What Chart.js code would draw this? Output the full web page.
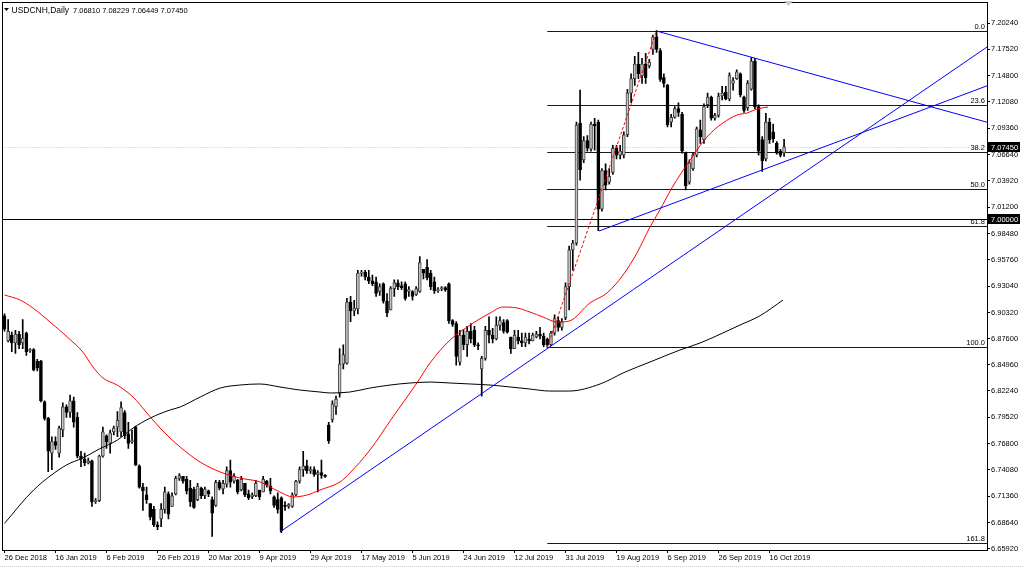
<!DOCTYPE html>
<html>
<head>
<meta charset="utf-8">
<script src="https://cdn.jsdelivr.net/npm/chart.js@4.4.0/dist/chart.umd.min.js"></script>
<style>
  html, body { margin: 0; padding: 0; background: #fff; }
  #wrap { width: 1024px; height: 569px; }
</style>
</head>
<body>
<div id="wrap"><canvas id="chart" width="1024" height="569"></canvas></div>
<script>
// USDCNH daily candles, 26 Dec 2018 .. 22 Oct 2019
const opens = [
  6.900, 6.874, 6.880, 6.872, 6.881, 6.872, 6.882, 6.864, 6.865, 6.853,
  6.853, 6.811, 6.794, 6.758, 6.770, 6.758, 6.782, 6.806, 6.800, 6.812,
  6.795, 6.755, 6.752, 6.748, 6.750, 6.708, 6.709, 6.755, 6.776, 6.768,
  6.780, 6.785, 6.780, 6.800, 6.778, 6.770, 6.785, 6.745, 6.723, 6.715,
  6.706, 6.700, 6.684, 6.690, 6.700, 6.716, 6.703, 6.716, 6.732, 6.734,
  6.731, 6.722, 6.721, 6.710, 6.722, 6.714, 6.719, 6.710, 6.704, 6.728,
  6.721, 6.726, 6.740, 6.729, 6.730, 6.720, 6.727, 6.716, 6.713, 6.714,
  6.720, 6.718, 6.729, 6.724, 6.713, 6.710, 6.712, 6.704, 6.703, 6.703,
  6.715, 6.729, 6.741, 6.745, 6.740, 6.741, 6.736, 6.738, 6.735, 6.787,
  6.793, 6.806, 6.820, 6.850, 6.851, 6.914, 6.905, 6.907, 6.944, 6.945,
  6.940, 6.936, 6.935, 6.925, 6.933, 6.915, 6.906, 6.928, 6.934, 6.931,
  6.933, 6.925, 6.925, 6.922, 6.925, 6.948, 6.950, 6.944, 6.935, 6.926,
  6.928, 6.929, 6.933, 6.895, 6.892, 6.852, 6.880, 6.870, 6.884, 6.885,
  6.870, 6.845, 6.856, 6.885, 6.880, 6.876, 6.890, 6.893, 6.895, 6.878,
  6.866, 6.878, 6.874, 6.872, 6.876, 6.874, 6.878, 6.881, 6.879, 6.876,
  6.870, 6.882, 6.895, 6.888, 6.898, 6.930, 6.968, 6.975, 7.099, 7.061,
  7.081, 7.072, 7.098, 7.100, 7.010, 7.050, 7.038, 7.048, 7.073, 7.066,
  7.066, 7.087, 7.130, 7.145, 7.160, 7.148, 7.160, 7.158, 7.175, 7.188,
  7.174, 7.146, 7.138, 7.100, 7.105, 7.114, 7.108, 7.068, 7.038, 7.052,
  7.066, 7.092, 7.082, 7.118, 7.126, 7.104, 7.107, 7.127, 7.131, 7.124,
  7.140, 7.145, 7.150, 7.126, 7.115, 7.134, 7.163, 7.116, 7.082, 7.062,
  7.100, 7.090, 7.078, 7.070, 7.0681
];
const highs = [
  6.902, 6.896, 6.883, 6.885, 6.884, 6.896, 6.883, 6.866, 6.866, 6.855,
  6.854, 6.812, 6.795, 6.775, 6.775, 6.786, 6.810, 6.808, 6.818, 6.816,
  6.800, 6.760, 6.758, 6.753, 6.751, 6.711, 6.756, 6.785, 6.777, 6.782,
  6.786, 6.801, 6.811, 6.802, 6.790, 6.782, 6.786, 6.746, 6.727, 6.723,
  6.706, 6.703, 6.687, 6.706, 6.723, 6.718, 6.717, 6.734, 6.737, 6.734,
  6.734, 6.730, 6.723, 6.727, 6.723, 6.723, 6.720, 6.713, 6.730, 6.730,
  6.730, 6.744, 6.751, 6.737, 6.731, 6.734, 6.727, 6.720, 6.717, 6.730,
  6.720, 6.734, 6.730, 6.732, 6.714, 6.717, 6.713, 6.708, 6.706, 6.717,
  6.730, 6.744, 6.760, 6.751, 6.744, 6.744, 6.740, 6.751, 6.736, 6.790,
  6.812, 6.817, 6.866, 6.870, 6.918, 6.920, 6.916, 6.947, 6.947, 6.947,
  6.947, 6.942, 6.940, 6.933, 6.934, 6.923, 6.930, 6.937, 6.937, 6.935,
  6.935, 6.930, 6.926, 6.930, 6.961, 6.948, 6.958, 6.947, 6.940, 6.929,
  6.930, 6.930, 6.934, 6.896, 6.894, 6.885, 6.886, 6.889, 6.892, 6.889,
  6.872, 6.858, 6.889, 6.899, 6.887, 6.899, 6.899, 6.896, 6.896, 6.878,
  6.885, 6.885, 6.882, 6.882, 6.882, 6.882, 6.884, 6.888, 6.882, 6.877,
  6.884, 6.901, 6.899, 6.897, 6.934, 6.972, 6.978, 7.100, 7.133, 7.085,
  7.086, 7.100, 7.104, 7.102, 7.052, 7.057, 7.052, 7.076, 7.076, 7.076,
  7.090, 7.134, 7.150, 7.168, 7.172, 7.166, 7.171, 7.165, 7.190, 7.1945,
  7.176, 7.150, 7.139, 7.108, 7.116, 7.120, 7.110, 7.069, 7.061, 7.068,
  7.095, 7.102, 7.119, 7.130, 7.127, 7.109, 7.130, 7.137, 7.137, 7.151,
  7.146, 7.154, 7.151, 7.127, 7.143, 7.1666, 7.166, 7.118, 7.085, 7.109,
  7.104, 7.098, 7.080, 7.072, 7.08229
];
const lows = [
  6.884, 6.873, 6.863, 6.861, 6.866, 6.866, 6.859, 6.862, 6.843, 6.843,
  6.811, 6.792, 6.739, 6.741, 6.762, 6.754, 6.775, 6.795, 6.795, 6.785,
  6.753, 6.744, 6.745, 6.747, 6.703, 6.706, 6.708, 6.754, 6.763, 6.758,
  6.777, 6.775, 6.775, 6.773, 6.763, 6.768, 6.745, 6.722, 6.699, 6.706,
  6.689, 6.682, 6.679, 6.682, 6.696, 6.690, 6.703, 6.715, 6.730, 6.727,
  6.716, 6.703, 6.701, 6.709, 6.711, 6.711, 6.713, 6.672, 6.703, 6.720,
  6.716, 6.723, 6.723, 6.727, 6.716, 6.719, 6.713, 6.710, 6.711, 6.713,
  6.710, 6.718, 6.723, 6.716, 6.702, 6.696, 6.676, 6.699, 6.701, 6.702,
  6.714, 6.727, 6.734, 6.737, 6.737, 6.734, 6.718, 6.732, 6.733, 6.768,
  6.790, 6.798, 6.816, 6.845, 6.850, 6.894, 6.900, 6.902, 6.941, 6.937,
  6.933, 6.931, 6.920, 6.921, 6.913, 6.899, 6.906, 6.920, 6.927, 6.927,
  6.916, 6.920, 6.916, 6.921, 6.924, 6.938, 6.937, 6.927, 6.923, 6.924,
  6.926, 6.925, 6.892, 6.889, 6.849, 6.849, 6.865, 6.858, 6.872, 6.868,
  6.865, 6.817, 6.854, 6.872, 6.872, 6.875, 6.885, 6.882, 6.882, 6.861,
  6.866, 6.871, 6.868, 6.868, 6.871, 6.874, 6.877, 6.876, 6.868, 6.8675,
  6.869, 6.880, 6.884, 6.885, 6.896, 6.906, 6.947, 6.973, 7.040, 7.058,
  7.070, 7.070, 7.071, 6.988, 7.008, 7.030, 7.036, 7.046, 7.062, 7.062,
  7.063, 7.085, 7.120, 7.138, 7.145, 7.140, 7.140, 7.156, 7.170, 7.172,
  7.142, 7.136, 7.095, 7.095, 7.104, 7.106, 7.068, 7.030, 7.036, 7.050,
  7.064, 7.078, 7.078, 7.115, 7.102, 7.102, 7.105, 7.123, 7.123, 7.122,
  7.133, 7.144, 7.126, 7.110, 7.112, 7.133, 7.114, 7.066, 7.049, 7.060,
  7.078, 7.079, 7.067, 7.064, 7.06449
];
const closes = [
  6.886, 6.884, 6.872, 6.881, 6.870, 6.877, 6.863, 6.865, 6.844, 6.846,
  6.812, 6.794, 6.760, 6.770, 6.766, 6.784, 6.806, 6.800, 6.812, 6.790,
  6.755, 6.752, 6.748, 6.750, 6.708, 6.709, 6.755, 6.780, 6.770, 6.779,
  6.784, 6.792, 6.805, 6.776, 6.768, 6.770, 6.746, 6.723, 6.719, 6.710,
  6.692, 6.684, 6.682, 6.700, 6.718, 6.695, 6.714, 6.732, 6.735, 6.729,
  6.719, 6.708, 6.702, 6.724, 6.714, 6.721, 6.716, 6.696, 6.728, 6.722,
  6.727, 6.740, 6.728, 6.734, 6.718, 6.731, 6.715, 6.712, 6.715, 6.727,
  6.713, 6.731, 6.725, 6.719, 6.704, 6.700, 6.678, 6.703, 6.705, 6.715,
  6.729, 6.741, 6.745, 6.740, 6.741, 6.736, 6.738, 6.735, 6.734, 6.771,
  6.809, 6.814, 6.850, 6.860, 6.914, 6.905, 6.908, 6.944, 6.945, 6.940,
  6.936, 6.933, 6.923, 6.930, 6.915, 6.903, 6.928, 6.934, 6.930, 6.929,
  6.918, 6.927, 6.920, 6.928, 6.955, 6.944, 6.939, 6.930, 6.926, 6.927,
  6.929, 6.927, 6.895, 6.891, 6.858, 6.880, 6.870, 6.884, 6.876, 6.870,
  6.869, 6.856, 6.885, 6.880, 6.876, 6.890, 6.895, 6.884, 6.883, 6.866,
  6.880, 6.874, 6.872, 6.878, 6.874, 6.880, 6.881, 6.879, 6.870, 6.870,
  6.882, 6.897, 6.888, 6.894, 6.930, 6.968, 6.975, 7.097, 7.051, 7.081,
  7.073, 7.098, 7.096, 7.010, 7.050, 7.035, 7.044, 7.073, 7.066, 7.070,
  7.087, 7.130, 7.145, 7.160, 7.150, 7.160, 7.146, 7.162, 7.188, 7.175,
  7.144, 7.140, 7.097, 7.105, 7.114, 7.110, 7.070, 7.034, 7.058, 7.066,
  7.093, 7.085, 7.116, 7.126, 7.104, 7.107, 7.127, 7.130, 7.124, 7.148,
  7.143, 7.152, 7.128, 7.112, 7.140, 7.163, 7.116, 7.070, 7.060, 7.100,
  7.082, 7.083, 7.068, 7.066, 7.0745
];

// 50 and 200 day moving averages, read at bar positions
const ma50Index = [0, 4.3, 7.8, 12.5, 17.2, 21.5, 24.3, 27, 30.9, 35.3, 39.1, 42.7, 48.2, 53.7, 59.2, 64.6, 70.1, 75.6, 79.2, 83, 86.6, 92.1, 94.8, 100.3, 106.6, 113.2, 116.8, 122.3, 127.8, 133.3, 136.8, 140.7, 144.2, 147.8, 151.7, 155, 160.7, 165.4, 169.8, 173.6, 177.2, 179.9, 183.2, 188.2, 192.8, 197.2, 201.1, 203.8, 206.6, 209.6];
const ma50Value = [6.9214, 6.9162, 6.9080, 6.8935, 6.8781, 6.8625, 6.8470, 6.8357, 6.8284, 6.8160, 6.7995, 6.7840, 6.7644, 6.7489, 6.7386, 6.7324, 6.7283, 6.7179, 6.7128, 6.7148, 6.7200, 6.7283, 6.7375, 6.7613, 6.7954, 6.8305, 6.8512, 6.8749, 6.8904, 6.9028, 6.9090, 6.9080, 6.9039, 6.8987, 6.8935, 6.8945, 6.9132, 6.9235, 6.9421, 6.9648, 6.9917, 7.0092, 7.0320, 7.0609, 7.0846, 7.0991, 7.1074, 7.1094, 7.1136, 7.1156];
const ma200Index = [0, 8, 17, 21.5, 26, 31, 35.3, 40, 45.4, 48.2, 53.7, 59.2, 64.6, 70.1, 75.6, 81, 86.6, 89.4, 94.8, 100.3, 105.8, 111.3, 116.8, 122.3, 127.8, 133.3, 138.8, 144.2, 149.7, 155, 163.5, 170.4, 177.2, 185.4, 190.9, 201.9, 207.4, 213.7];
const ma200Value = [6.6855, 6.7200, 6.7458, 6.7530, 6.7623, 6.7716, 6.7840, 6.7943, 6.8026, 6.8057, 6.8160, 6.8253, 6.8284, 6.8295, 6.8264, 6.8233, 6.8212, 6.8202, 6.8212, 6.8253, 6.8284, 6.8305, 6.8315, 6.8305, 6.8295, 6.8284, 6.8264, 6.8243, 6.8222, 6.8222, 6.8295, 6.8419, 6.8522, 6.8646, 6.8718, 6.8904, 6.9000, 6.9162];

// drawn objects: trend lines [bar, price], fibonacci retracement
const trendUp = [[75.6, 6.6766], [269.7, 7.1776]];
const trendSupport = [[163.2, 6.9875], [269.7, 7.1375]];
const trendResist = [[179, 7.1941], [269.7, 7.0999]];
const fibAnchor = [[149, 6.8675], [179, 7.1945]];
const fibLevels = [0, 23.6, 38.2, 50, 61.8, 100, 161.8];
const fibLabels = ["0.0", "23.6", "38.2", "50.0", "61.8", "100.0", "161.8"];
const levelLine = 7.0;

// axes
const tickDates = ["26 Dec 2018", "16 Jan 2019", "6 Feb 2019", "26 Feb 2019", "20 Mar 2019", "9 Apr 2019",
  "29 Apr 2019", "17 May 2019", "5 Jun 2019", "24 Jun 2019", "12 Jul 2019", "31 Jul 2019",
  "19 Aug 2019", "6 Sep 2019", "26 Sep 2019", "16 Oct 2019"];
const tickStep = 14;
const priceTicks = [7.2024, 7.1752, 7.148, 7.1208, 7.0936, 7.0664, 7.0392, 7.012, 6.9848, 6.9576,
  6.9304, 6.9032, 6.876, 6.8496, 6.8224, 6.7952, 6.768, 6.7408, 6.7136, 6.6864, 6.6592];

const FONT = { family: "'Liberation Sans', Arial, sans-serif", size: 7.5 };
const FONT_CSS = "7.5px 'Liberation Sans', Arial, sans-serif";
const last = closes.length - 1;
const lastPrice = closes[last];

const barIndex = opens.map((_, i) => i);
const wickData = barIndex.map(i => ({ x: i, y: [lows[i], highs[i]] }));
const bodyData = barIndex.map(i => ({ x: i, y: [opens[i], closes[i]] }));
const pts = (xs, ys) => xs.map((v, k) => ({ x: v, y: ys[k] }));
const seg = (p) => p.map(q => ({ x: q[0], y: q[1] }));

function hline(ctx, x1, x2, yy) {
  ctx.beginPath();
  ctx.moveTo(x1, yy);
  ctx.lineTo(x2, yy);
  ctx.stroke();
}

const overlay = {
  id: "overlay",
  beforeDatasetsDraw(chart) {
    const { ctx, chartArea: a, scales: { x, y } } = chart;
    ctx.save();
    ctx.lineWidth = 1;
    // last price line
    ctx.strokeStyle = "#c0c0c0";
    ctx.setLineDash([1, 2]);
    hline(ctx, a.left, a.right, Math.round(y.getPixelForValue(lastPrice)) + 0.5);
    ctx.setLineDash([]);
    // 7.00000 level
    ctx.strokeStyle = "#000";
    hline(ctx, a.left, a.right, Math.round(y.getPixelForValue(levelLine)) + 0.5);
    // fibonacci levels
    const hi = fibAnchor[1][1], lo = fibAnchor[0][1];
    const fx = x.getPixelForValue(fibAnchor[0][0]);
    ctx.strokeStyle = "#1a1a1a";
    fibLevels.forEach(l => {
      const p = hi - (hi - lo) * l / 100;
      hline(ctx, fx, a.right, Math.round(y.getPixelForValue(p)) + 0.5);
    });
    ctx.restore();
  },
  afterDraw(chart) {
    const { ctx, chartArea: a, scales: { y } } = chart;
    ctx.save();
    // plot frame
    ctx.strokeStyle = "#000";
    ctx.lineWidth = 1;
    ctx.strokeRect(Math.floor(a.left) + 0.5, Math.floor(a.top) + 0.5, Math.round(a.right - a.left), Math.round(a.bottom - a.top));
    // fib labels
    ctx.font = FONT_CSS;
    ctx.fillStyle = "#000";
    ctx.textAlign = "right";
    ctx.textBaseline = "bottom";
    const hi = fibAnchor[1][1], lo = fibAnchor[0][1];
    fibLevels.forEach((l, k) => {
      const p = hi - (hi - lo) * l / 100;
      ctx.fillText(fibLabels[k], a.right - 2, Math.round(y.getPixelForValue(p)));
    });
    // highlighted price labels on the axis
    ctx.textAlign = "left";
    ctx.textBaseline = "middle";
    [levelLine, lastPrice].forEach(p => {
      const py = Math.round(y.getPixelForValue(p));
      ctx.fillStyle = "#000";
      ctx.fillRect(a.right + 1, py - 5, 32, 10);
      ctx.fillStyle = "#fff";
      ctx.fillText(p.toFixed(5), a.right + 4, py + 0.5);
    });
    // header
    ctx.fillStyle = "#000";
    ctx.beginPath();
    ctx.moveTo(4, 8); ctx.lineTo(9, 8); ctx.lineTo(6.5, 11); ctx.closePath();
    ctx.fill();
    ctx.font = "8.5px 'Liberation Sans', Arial, sans-serif";
    ctx.fillText("USDCNH,Daily", 11.5, 10.5);
    ctx.font = FONT_CSS;
    ctx.fillText([opens[last].toFixed(5), highs[last].toFixed(5), lows[last].toFixed(5), closes[last].toFixed(5)].join(" "), 73, 10.5);
    // chart shift marker
    ctx.fillStyle = "#c8c8c8";
    ctx.beginPath();
    ctx.moveTo(784, 1); ctx.lineTo(793, 1); ctx.lineTo(788.5, 6); ctx.closePath();
    ctx.fill();
    // outer window edge
    ctx.strokeStyle = "#d0d0d0";
    ctx.setLineDash([1, 1]);
    hline(ctx, 0, 1024, 566.5);
    ctx.restore();
  }
};

const lineBase = { type: "line", pointRadius: 0, borderWidth: 1, fill: false, tension: 0 };

new Chart(document.getElementById("chart"), {
  type: "bar",
  data: {
    datasets: [
      { ...lineBase, data: seg(trendUp), borderColor: "#0000ff", order: 0 },
      { ...lineBase, data: seg(trendSupport), borderColor: "#0000ff", order: 0 },
      { ...lineBase, data: seg(trendResist), borderColor: "#0000ff", order: 0 },
      { ...lineBase, data: seg(fibAnchor), borderColor: "#ff0000", borderDash: [3, 2], order: 0 },
      { ...lineBase, data: pts(ma50Index, ma50Value), borderColor: "#ff0000", cubicInterpolationMode: "monotone", order: 1 },
      { ...lineBase, data: pts(ma200Index, ma200Value), borderColor: "#000000", cubicInterpolationMode: "monotone", order: 1 },
      {
        data: bodyData,
        backgroundColor: (c) => closes[c.dataIndex] >= opens[c.dataIndex] ? "#c4c4c4" : "#000000",
        borderColor: (c) => closes[c.dataIndex] >= opens[c.dataIndex] ? "#404040" : "#000000",
        borderWidth: 1,
        borderSkipped: false,
        barThickness: 3,
        minBarLength: 1,
        grouped: false,
        order: 2
      },
      {
        data: wickData,
        backgroundColor: "#000000",
        barThickness: 1,
        grouped: false,
        order: 3
      }
    ]
  },
  options: {
    responsive: false,
    animation: false,
    devicePixelRatio: 1,
    layout: { padding: { left: 2.5, top: 2, right: 0, bottom: 0 }, autoPadding: false },
    plugins: { legend: { display: false }, tooltip: { enabled: false }, title: { display: false } },
    scales: {
      x: {
        type: "linear",
        min: -0.55,
        max: 269.7,
        offset: false,
        afterFit: (s) => { s.height = 19; s.paddingLeft = 0; s.paddingRight = 0; },
        afterBuildTicks: (s) => { s.ticks = tickDates.map((d, k) => ({ value: k * tickStep })); },
        grid: { display: true, drawOnChartArea: false, drawTicks: true, tickLength: 3, color: "#000", offset: false },
        border: { display: true, color: "#000" },
        ticks: {
          autoSkip: false,
          maxRotation: 0,
          align: "start",
          padding: 0,
          color: "#000",
          font: FONT,
          callback: (v, k) => tickDates[k]
        }
      },
      y: {
        type: "linear",
        position: "right",
        min: 6.6580,
        max: 7.2241,
        afterFit: (s) => { s.width = 37; s.paddingTop = 0; s.paddingBottom = 0; },
        afterBuildTicks: (s) => { s.ticks = priceTicks.map(v => ({ value: v })); },
        grid: { display: true, drawOnChartArea: false, drawTicks: true, tickLength: 3, color: "#000" },
        border: { display: true, color: "#000" },
        ticks: {
          padding: 1,
          color: "#000",
          font: FONT,
          callback: (v) => Number(v).toFixed(5)
        }
      }
    }
  },
  plugins: [overlay]
});
</script>
</body>
</html>
